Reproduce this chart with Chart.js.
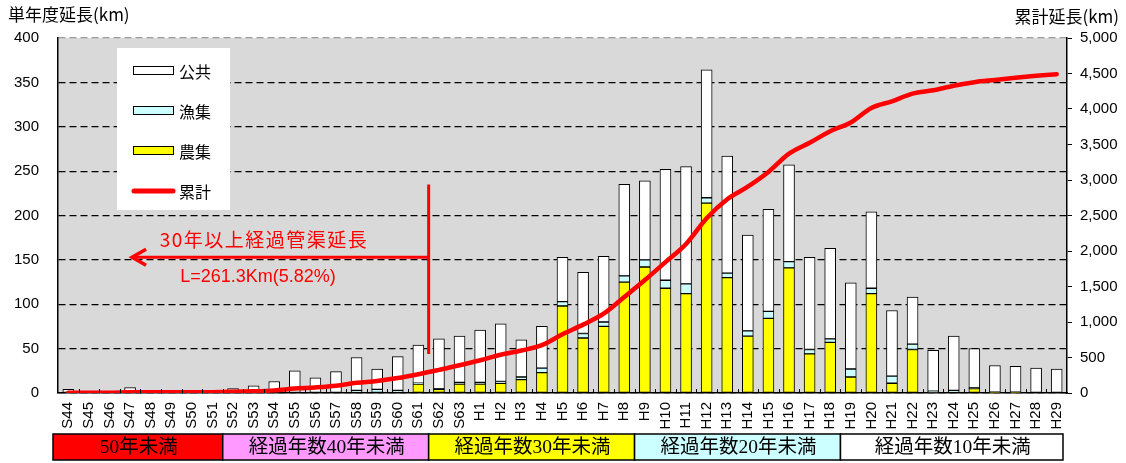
<!DOCTYPE html>
<html lang="ja">
<head>
<meta charset="UTF-8">
<title>管渠延長</title>
<script src="https://cdn.jsdelivr.net/npm/chart.js"></script>
<style>
  html, body { margin: 0; padding: 0; background: #fff; }
  #wrap { width: 1126px; height: 463px; }
</style>
</head>
<body>
<div id="wrap"><canvas id="chart" width="1126" height="463"></canvas></div>
<script>
// 年度
const years = ['S44','S45','S46','S47','S48','S49','S50','S51','S52','S53','S54','S55','S56','S57','S58','S59','S60','S61','S62','S63',
  'H1','H2','H3','H4','H5','H6','H7','H8','H9','H10','H11','H12','H13','H14','H15','H16','H17','H18','H19','H20',
  'H21','H22','H23','H24','H25','H26','H27','H28','H29'];

// 単年度延長 (km)
const agri = [0,0,0,0,0,0,0,0,0,0,0,0,0,0,0,0,0,10,4,10,
  10,11,15,23,98,62,75,125,142,118,112,214,130,64,84,141,44,57,18,112,
  11,49,0,0,5,1,1,0,0];
const fish = [0,0,0,0,0,0,0,0,0,0,0,0,0,0,3,4,3,1,1,2,
  2,2,3,5,5,5,5,7,8,9,11,6,5,6,8,7,5,4,9,6,
  8,6,2,3,1,0,0,0,0];
const pub = [4,0,0,6,0,0,0,1,5,8,13,25,17,24,37,23,38,43,56,52,
  59,65,42,47,50,69,74,103,89,125,132,144,132,108,115,109,104,102,97,86,
  74,53,46,61,44,30,29,28,27];

// 累計延長 (km)
const cumulative = [4,4,4,10,10,10,10,11,16,24,37,62,79,103,143,170,211,265,326,390,
  461,539,599,674,827,963,1117,1352,1591,1843,2098,2462,2729,2907,3114,3371,3524,3687,3811,4015,
  4108,4216,4264,4328,4378,4409,4439,4467,4490];

const leftMax = 400, leftStep = 50;
const rightMax = 5000, rightStep = 500;

// 経過年数の区分 (カテゴリ番号の範囲)
const eras = [
  { label: '50年未満', from: 0, to: 7, color: '#ff0000' },
  { label: '経過年数40年未満', from: 8, to: 17, color: '#ff99ff' },
  { label: '経過年数30年未満', from: 18, to: 27, color: '#ffff00' },
  { label: '経過年数20年未満', from: 28, to: 37, color: '#ccffff' },
  { label: '経過年数10年未満', from: 38, to: 48, color: '#ffffff' }
];

const noteTitle = '30年以上経過管渠延長';
const noteValue = 'L=261.3Km(5.82%)';

const NUM_FONT = '"Liberation Sans", Arial, sans-serif';
const JP_FONT = '"Noto Sans CJK JP", sans-serif';

const decorations = {
  id: 'decorations',
  beforeDraw(chart) {
    const { ctx, chartArea: a } = chart;
    ctx.save();
    ctx.fillStyle = '#d9d9d9';
    ctx.fillRect(a.left, a.top, a.right - a.left, a.bottom - a.top);
    ctx.restore();
  },
  afterDraw(chart) {
    const { ctx, chartArea: a, scales } = chart;
    const x = scales.x, y = scales.y;
    const half = (x.getPixelForValue(1) - x.getPixelForValue(0)) / 2;
    ctx.save();

    // small inward tick marks on the category axis
    ctx.strokeStyle = '#000';
    ctx.lineWidth = 1;
    for (let i = 1; i < years.length; i++) {
      const px = Math.round(x.getPixelForValue(i) - half) + 0.5;
      ctx.beginPath();
      ctx.moveTo(px, a.bottom);
      ctx.lineTo(px, a.bottom - 4);
      ctx.stroke();
    }

    // axis titles
    ctx.fillStyle = '#000';
    ctx.font = '17px ' + JP_FONT;
    ctx.textBaseline = 'middle';
    ctx.textAlign = 'left';
    ctx.fillText('単年度延長(km)', 8, 15);
    ctx.textAlign = 'right';
    ctx.fillText('累計延長(km)', 1119, 17);

    // legend box
    ctx.fillStyle = '#fff';
    ctx.fillRect(117, 48, 113, 162);
    const items = [
      { label: '公共', fill: '#ffffff' },
      { label: '漁集', fill: '#ccffff' },
      { label: '農集', fill: '#ffff00' },
      { label: '累計', line: '#ff0000' }
    ];
    items.forEach((it, i) => {
      const cy = 71 + i * 40;
      if (it.line) {
        ctx.strokeStyle = it.line;
        ctx.lineWidth = 5;
        ctx.lineCap = 'round';
        ctx.beginPath();
        ctx.moveTo(134, cy);
        ctx.lineTo(173, cy);
        ctx.stroke();
      } else {
        ctx.fillStyle = it.fill;
        ctx.fillRect(133.5, cy - 4.5, 40, 8);
        ctx.strokeStyle = '#000';
        ctx.lineWidth = 1;
        ctx.strokeRect(133.5, cy - 4.5, 40, 8);
      }
      ctx.fillStyle = '#000';
      ctx.font = '16px ' + JP_FONT;
      ctx.textAlign = 'left';
      ctx.fillText(it.label, 179, cy + 1);
    });

    // 30年以上 annotation
    const splitX = (x.getPixelForValue(17) + x.getPixelForValue(18)) / 2;
    const arrowY = y.getPixelForValue(153);
    const tipX = x.getPixelForValue(3);
    ctx.strokeStyle = '#ff0000';
    ctx.lineCap = 'butt';
    ctx.lineWidth = 3;
    ctx.beginPath();
    ctx.moveTo(splitX, y.getPixelForValue(235));
    ctx.lineTo(splitX, y.getPixelForValue(44));
    ctx.moveTo(splitX, arrowY);
    ctx.lineTo(tipX + 2, arrowY);
    ctx.stroke();
    ctx.lineWidth = 3.5;
    ctx.lineJoin = 'miter';
    ctx.beginPath();
    ctx.moveTo(tipX + 16, arrowY - 8);
    ctx.lineTo(tipX + 2, arrowY);
    ctx.lineTo(tipX + 16, arrowY + 8);
    ctx.stroke();

    ctx.fillStyle = '#ff0000';
    ctx.textAlign = 'center';
    ctx.font = '19px ' + JP_FONT;
    if ('letterSpacing' in ctx) ctx.letterSpacing = '1.5px';
    ctx.fillText(noteTitle, 264, 240);
    if ('letterSpacing' in ctx) ctx.letterSpacing = '0px';
    ctx.font = '18px ' + NUM_FONT;
    ctx.fillText(noteValue, 258, 277);

    // era band under the axis
    const top = 434, h = 26;
    eras.forEach((e, i) => {
      const x0 = i === 0 ? a.left - 5 : x.getPixelForValue(e.from) - half;
      const x1 = i === eras.length - 1 ? a.right - 4 : x.getPixelForValue(e.to) + half;
      ctx.fillStyle = e.color;
      ctx.fillRect(x0, top, x1 - x0, h);
      ctx.strokeStyle = '#000';
      ctx.lineWidth = 1.5;
      ctx.strokeRect(x0, top, x1 - x0, h);
      ctx.fillStyle = '#000';
      ctx.font = '19.5px "Liberation Serif", "Noto Sans CJK JP", serif';
      ctx.textAlign = 'center';
      ctx.fillText(e.label, (x0 + x1) / 2 + 1, top + h / 2 + 1);
    });

    ctx.restore();
  }
};

const barBase = {
  type: 'bar',
  yAxisID: 'y',
  stack: 'km',
  borderColor: '#000',
  borderWidth: 1,
  borderSkipped: false,
  barThickness: 11,
  order: 1
};

new Chart(document.getElementById('chart'), {
  data: {
    labels: years,
    datasets: [
      { ...barBase, label: '農集', data: agri, backgroundColor: '#ffff00' },
      { ...barBase, label: '漁集', data: fish, backgroundColor: '#ccffff' },
      { ...barBase, label: '公共', data: pub, backgroundColor: '#ffffff' },
      {
        type: 'line',
        label: '累計',
        data: cumulative,
        yAxisID: 'y2',
        borderColor: '#ff0000',
        borderWidth: 4.5,
        borderCapStyle: 'round',
        pointRadius: 0,
        cubicInterpolationMode: 'monotone',
        order: 0
      }
    ]
  },
  options: {
    responsive: false,
    animation: false,
    devicePixelRatio: 1,
    layout: { padding: { top: 38, left: 0, right: 0, bottom: 0 } },
    plugins: {
      legend: { display: false },
      tooltip: { enabled: false }
    },
    scales: {
      x: {
        stacked: true,
        grid: { display: false, drawTicks: false },
        border: { color: '#000', width: 1.5 },
        ticks: {
          color: '#000',
          font: { family: NUM_FONT, size: 15 },
          minRotation: 90,
          maxRotation: 90,
          autoSkip: false,
          padding: 9
        },
        afterFit(s) { s.height = 70; }
      },
      y: {
        stacked: true,
        min: 0,
        max: leftMax,
        position: 'left',
        ticks: {
          stepSize: leftStep,
          color: '#000',
          font: { family: NUM_FONT, size: 15 },
          padding: 19
        },
        grid: {
          color: c => (c.tick && c.tick.value === leftMax ? '#9a9a9a' : '#000'),
          lineWidth: 1.2,
          drawTicks: false
        },
        border: { color: '#000', width: 1.5, dash: [7, 4] },
        afterFit(s) { s.width = 58; }
      },
      y2: {
        min: 0,
        max: rightMax,
        position: 'right',
        ticks: {
          stepSize: rightStep,
          color: '#000',
          font: { family: NUM_FONT, size: 15 },
          padding: 8
        },
        grid: { drawOnChartArea: false, color: '#000', tickLength: 5 },
        border: { color: '#000', width: 1.5 },
        afterFit(s) { s.width = 59; }
      }
    }
  },
  plugins: [decorations]
});
</script>
</body>
</html>
